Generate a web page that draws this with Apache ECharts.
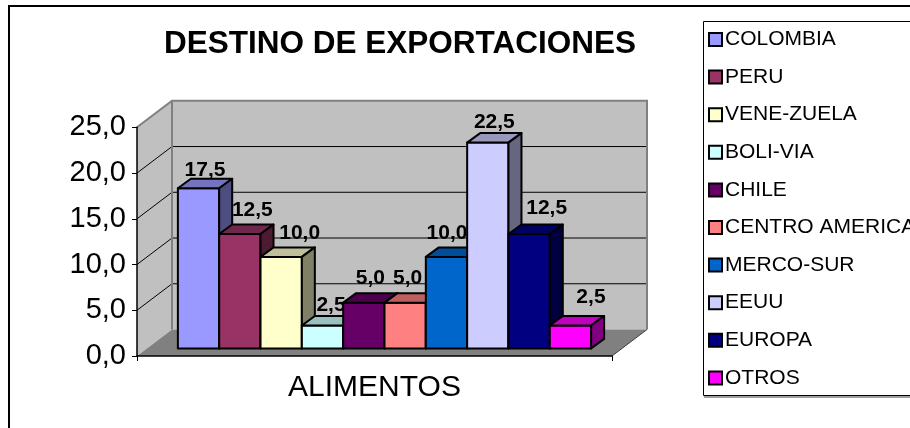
<!DOCTYPE html>
<html>
<head>
<meta charset="utf-8">
<title>Destino de exportaciones</title>
<script src="https://cdn.jsdelivr.net/npm/echarts@6/dist/echarts.min.js"></script>
<style>
  html, body { margin: 0; padding: 0; background: #fff; }
  #chart { width: 910px; height: 428px; }
</style>
</head>
<body>
<div id="chart"></div>
<script>
// datos
const categorias = ['ALIMENTOS'];
const destinos = ['COLOMBIA', 'PERU', 'VENE-ZUELA', 'BOLI-VIA', 'CHILE',
  'CENTRO AMERICA', 'MERCO-SUR', 'EEUU', 'EUROPA', 'OTROS'];
const valores = [17.5, 12.5, 10.0, 2.5, 5.0, 5.0, 10.0, 22.5, 12.5, 2.5];
const yTicks = [0, 5, 10, 15, 20, 25];

// estilo
const colores = ['#9999FF', '#993366', '#FFFFCC', '#CCFFFF', '#660066',
  '#FF8080', '#0066CC', '#CCCCFF', '#000080', '#FF00FF'];
const labelNudgeX = [0, 6, 12, 2, 0, -4, -6, 0, 11, 14];
const labelNudgeY = [5, 0, 0, 3, -1, -1, 0, 3, -2, -5];

const FONT = '"Liberation Sans", Arial, sans-serif';
const DX = 35, DY = -26.5;       // profundidad de la caja 3D
const OX = 10, OY = -7.6;        // cara frontal de las barras
const BDX = 13, BDY = -9.5;      // profundidad de cada barra
const BAR_FRAC = 0.087;          // ancho de barra / ancho de categoria

function fmt(v) { return v.toFixed(1).replace('.', ','); }

function shade(hex, k) {
  const n = parseInt(hex.slice(1), 16);
  const r = Math.round(((n >> 16) & 255) * k);
  const g = Math.round(((n >> 8) & 255) * k);
  const b = Math.round((n & 255) * k);
  return 'rgb(' + r + ',' + g + ',' + b + ')';
}

function renderWalls(params, api) {
  const c0 = api.coord([0, 0]);
  const bw = api.size([1, 0])[0];
  const L = c0[0] - bw / 2, R = c0[0] + bw / 2;
  const y0 = c0[1];
  const yMax = yTicks[yTicks.length - 1];
  const yT = api.coord([0, yMax])[1];
  const kids = [];
  // pared izquierda
  kids.push({ type: 'polygon', shape: { points: [[L, yT], [L + DX, yT + DY], [L + DX, y0 + DY], [L, y0]] },
    style: { fill: '#C0C0C0' } });
  // pared del fondo
  kids.push({ type: 'rect', shape: { x: L + DX, y: yT + DY, width: R - L, height: y0 - yT },
    style: { fill: '#C0C0C0' } });
  // piso
  kids.push({ type: 'polygon', shape: { points: [[L, y0], [L + DX, y0 + DY], [R + DX, y0 + DY], [R, y0]] },
    style: { fill: '#808080' } });
  // lineas de division
  yTicks.slice(1, -1).forEach(function (t) {
    const y = api.coord([0, t])[1];
    kids.push({ type: 'line', shape: { x1: L, y1: y, x2: L + DX, y2: y + DY }, style: { stroke: '#000', lineWidth: 1 } });
    kids.push({ type: 'line', shape: { x1: L + DX, y1: y + DY, x2: R + DX, y2: y + DY }, style: { stroke: '#000', lineWidth: 1 } });
  });
  // bordes grises
  const gris = { stroke: '#808080', lineWidth: 2, fill: null };
  kids.push({ type: 'polyline', shape: { points: [[L, yT], [L + DX, yT + DY], [R + DX, yT + DY], [R + DX, y0 + DY]] }, style: gris });
  kids.push({ type: 'line', shape: { x1: L + DX, y1: yT + DY, x2: L + DX, y2: y0 + DY }, style: gris });
  kids.push({ type: 'line', shape: { x1: R, y1: y0, x2: R + DX, y2: y0 + DY }, style: { stroke: '#404040', lineWidth: 1 } });
  return { type: 'group', children: kids };
}

function makeBarRenderer(i) {
  return function (params, api) {
    const v = api.value(1);
    const c0 = api.coord([0, 0]);
    const bw = api.size([1, 0])[0];
    const w = bw * BAR_FRAC;
    const x = c0[0] + OX - w * destinos.length / 2 + i * w;
    const yb = c0[1] + OY;
    const yt = api.coord([0, v])[1] + OY;
    const col = colores[i];
    const edge = { stroke: '#000', lineWidth: 2, lineJoin: 'round' };
    return {
      type: 'group',
      children: [
        { type: 'rect', shape: { x: x, y: yt, width: w, height: yb - yt },
          style: Object.assign({ fill: col }, edge) },
        { type: 'polygon', shape: { points: [[x, yt], [x + BDX, yt + BDY], [x + w + BDX, yt + BDY], [x + w, yt]] },
          style: Object.assign({ fill: shade(col, 0.75) }, edge) },
        { type: 'polygon', shape: { points: [[x + w, yt], [x + w + BDX, yt + BDY], [x + w + BDX, yb + BDY], [x + w, yb]] },
          style: Object.assign({ fill: shade(col, 0.5) }, edge) },
        { type: 'text', style: {
            text: fmt(v), x: x + w / 2 + BDX / 2 + labelNudgeX[i], y: yt + BDY - 14 + labelNudgeY[i],
            align: 'center', verticalAlign: 'middle', fill: '#000',
            font: 'bold 21px ' + FONT } }
      ]
    };
  };
}

const series = [{
  type: 'custom', name: 'paredes', silent: true, z: 1,
  renderItem: renderWalls, data: [[0, 0]], encode: { x: 0, y: 1 }
}];
destinos.forEach(function (d, i) {
  series.push({
    type: 'custom', name: d, silent: true, z: 2,
    itemStyle: { color: colores[i] },
    renderItem: makeBarRenderer(i),
    data: [[0, valores[i]]], encode: { x: 0, y: 1 }
  });
});

const chart = echarts.init(document.getElementById('chart'), null, { renderer: 'canvas' });
chart.setOption({
  animation: false,
  backgroundColor: '#fff',
  title: {
    text: 'DESTINO DE EXPORTACIONES', left: 400, top: 28, textAlign: 'center', padding: 0,
    textStyle: { fontFamily: FONT, fontSize: 31.5, fontWeight: 'bold', color: '#000' }
  },
  legend: {
    data: destinos, orient: 'vertical', left: 708, top: 29, padding: 0,
    itemWidth: 13, itemHeight: 13, itemGap: 16.6, icon: 'rect',
    itemStyle: { borderColor: '#000', borderWidth: 2 },
    textStyle: { fontFamily: FONT, fontSize: 21, lineHeight: 20, color: '#000', padding: [0, 0, 0, -2] },
    selectedMode: false
  },
  grid: { left: 137, top: 127.3, width: 475, height: 228.7, containLabel: false },
  xAxis: {
    type: 'category', data: categorias, z: 5,
    axisLine: { lineStyle: { color: '#000', width: 1.5 } },
    axisTick: { show: true, length: 5, lineStyle: { color: '#000' } },
    axisLabel: { color: '#000', fontFamily: FONT, fontSize: 30, margin: 17 }
  },
  yAxis: {
    type: 'value', min: 0, max: 25, interval: 5, z: 5,
    axisLine: { show: true, lineStyle: { color: '#000', width: 1.5 } },
    axisTick: { show: true, length: 5, lineStyle: { color: '#000' } },
    splitLine: { show: false },
    axisLabel: { color: '#000', fontFamily: FONT, fontSize: 29, margin: 11, formatter: fmt }
  },
  graphic: [
    { type: 'rect', z: 0, silent: true, shape: { x: 9, y: 6, width: 920, height: 440 },
      style: { fill: null, stroke: '#000', lineWidth: 2 } },
    { type: 'rect', z: 0, silent: true, shape: { x: 703.5, y: 21.5, width: 220, height: 374 },
      style: { fill: '#fff', stroke: '#000', lineWidth: 1 } },
    { type: 'line', z: 0, silent: true, shape: { x1: 704, y1: 397, x2: 912, y2: 397 },
      style: { stroke: '#808080', lineWidth: 1.5 } }
  ],
  series: series
});
</script>
</body>
</html>
